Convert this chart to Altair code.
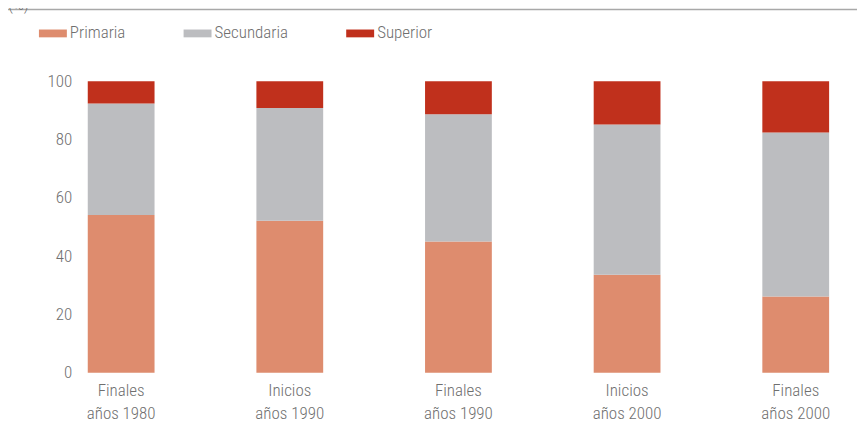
import altair as alt
import pandas as pd

periods = ["Finales|años 1980", "Inicios|años 1990", "Finales|años 1990", "Inicios|años 2000", "Finales|años 2000"]
levels = ["Primaria", "Secundaria", "Superior"]
primaria = [54.1, 52.1, 45.0, 33.6, 26.1]
secundaria = [38.3, 38.7, 43.7, 51.6, 56.3]
superior = [7.6, 9.2, 11.3, 14.8, 17.6]
colors = ["#DE8C6E", "#BCBDC0", "#C0301C"]

rows = []
for i, p in enumerate(periods):
    for j, (lv, vals) in enumerate(zip(levels, [primaria, secundaria, superior])):
        rows.append({"periodo": p, "nivel": lv, "valor": vals[i], "orden": j})
df = pd.DataFrame(rows)

FONT = "Roboto Condensed, Open Sans Condensed, Liberation Sans Narrow, DejaVu Sans Condensed, sans-serif"
GRAY = "#6f6f6f"
W = 300

bars = alt.Chart(df).mark_bar().encode(
    x=alt.X("periodo:N", sort=periods, title=None,
            scale=alt.Scale(paddingInner=0.604, paddingOuter=0.047),
            axis=alt.Axis(labelAngle=0, ticks=False, domain=False,
                          labelExpr="split(datum.label, '|')",
                          labelLineHeight=23, labelPadding=10,
                          labelFont=FONT, labelFontSize=17, labelFontWeight=W,
                          labelColor=GRAY)),
    y=alt.Y("valor:Q", stack="zero", title=None,
            scale=alt.Scale(domain=[0, 100], nice=False),
            axis=alt.Axis(values=[0, 20, 40, 60, 80, 100], grid=False, ticks=False,
                          domain=False, labelPadding=8,
                          labelFont=FONT, labelFontSize=17, labelFontWeight=W,
                          labelColor=GRAY)),
    color=alt.Color("nivel:N", sort=levels,
                    scale=alt.Scale(domain=levels, range=colors),
                    legend=alt.Legend(title=None, orient="none", direction="horizontal",
                                      legendX=-41, legendY=-62,
                                      symbolType="M-1,-0.28L1,-0.28L1,0.28L-1,0.28Z",
                                      symbolSize=784, symbolStrokeWidth=0,
                                      symbolOpacity=1,
                                      labelFont=FONT, labelFontSize=17, labelFontWeight=W,
                                      labelColor=GRAY,
                                      labelOffset=3, columnPadding=58)),
    order=alt.Order("orden:Q"),
)

unit = alt.Chart(pd.DataFrame({"t": ["(%)"]}))
pct = unit.mark_text(align="left", baseline="bottom", font=FONT, fontSize=17,
                     fontWeight=W, color=GRAY).encode(
    text="t:N", x=alt.value(-72), y=alt.value(-67))
line = unit.mark_rule(color="#a8a8a8", strokeWidth=1.5).encode(
    x=alt.value(-73), x2=alt.value(785), y=alt.value(-72))

chart = alt.layer(bars, line, pct).properties(
    width=759, height=292,
    autosize=alt.AutoSizeParams(type="none"),
    padding={"left": 72, "top": 73, "right": 20, "bottom": 51},
).configure_view(stroke=None)

chart.save("out.html", embed_options={"renderer": "svg", "actions": False})
